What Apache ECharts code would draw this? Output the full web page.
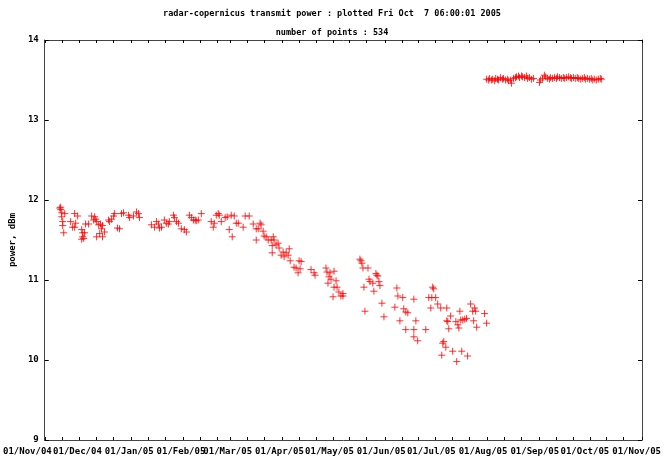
<!DOCTYPE html>
<html>
<head>
<meta charset="utf-8">
<script src="https://cdn.jsdelivr.net/npm/echarts@6/dist/echarts.min.js"></script>
<style>
  html, body { margin: 0; padding: 0; background: #fff; }
  #chart { width: 664px; height: 459px; }
</style>
</head>
<body>
<div id="chart"></div>
<script>
// Day offsets are counted from 01/Nov/2004.
const monthLabels = ['01/Nov/04', '01/Dec/04', '01/Jan/05', '01/Feb/05', '01/Mar/05', '01/Apr/05',
  '01/May/05', '01/Jun/05', '01/Jul/05', '01/Aug/05', '01/Sep/05', '01/Oct/05', '01/Nov/05'];
const monthStartDays = [0, 30, 61, 92, 120, 151, 181, 212, 242, 273, 304, 334, 365];

const yTicks = [9, 10, 11, 12, 13, 14];

// Transmit power samples: day offset and power in dBm.
const pointDays = [
  19.0, 19.0, 19.6, 19.6, 20.2, 20.2, 20.8, 21.4, 18.4, 27.3, 29.1, 24.9, 26.1, 27.3, 27.9,
  31.5, 32.1, 32.1, 32.7, 31.5, 33.2, 33.8, 35.6, 37.4, 39.2, 38.6, 39.8, 40.4, 41.6, 42.7,
  43.9, 43.3, 45.1, 43.9, 40.4, 42.2, 47.5, 48.1, 49.3, 50.5, 51.1, 52.8, 54.0, 55.2, 56.4,
  59.4, 60.0, 62.3, 64.1, 65.3, 65.9,
  73.0, 74.8, 76.0, 77.2, 77.8, 79.0, 80.7, 81.9, 83.1, 83.7, 86.1, 86.7, 87.9, 89.1, 90.8,
  92.6, 93.8, 95.6, 96.8, 98.0, 99.1, 99.7, 100.9, 102.7, 108.6, 109.8, 110.4, 111.6, 112.8,
  113.4, 114.6, 116.9, 118.1, 119.3, 120.5, 121.1, 122.3, 123.5, 124.7, 127.6, 128.8, 131.2,
  133.6, 135.4, 136.6, 135.4, 137.7, 138.3, 139.5, 140.1, 141.3, 142.5, 144.3, 145.5, 146.0,
  144.9, 144.9, 147.2, 148.4, 149.0, 150.2, 151.4, 152.0, 153.2, 154.4, 155.0, 155.6, 157.9,
  159.1, 160.3, 160.9, 162.1, 161.5, 168.0, 169.8, 170.4, 176.9, 177.5, 178.7, 179.3, 181.7,
  178.1, 179.9, 182.9, 181.7, 183.5, 184.6, 185.8, 187.0, 181.1, 187.0,
  197.1, 197.7, 198.3, 198.9, 201.9, 206.6, 207.2, 207.8, 202.5, 203.1, 204.8, 208.4, 209.0,
  199.5, 205.4, 210.2, 200.1, 211.4, 219.1, 219.7, 222.6, 217.9, 223.2, 224.4, 225.6, 229.2,
  220.9, 230.4, 224.4, 229.2, 236.3, 229.2, 231.5,
  240.4, 241.0, 238.1, 239.9, 242.2, 243.4, 245.2, 239.3, 248.8, 251.1, 249.4, 248.8, 250.0,
  254.2, 255.4, 256.0, 257.1, 258.3, 256.6, 259.5, 260.6, 263.0, 264.2, 265.4, 266.0, 264.8,
  266.6, 271.3, 272.5, 246.4, 247.0, 248.2, 245.8, 252.3, 257.7, 254.7, 261.2,
  272.5, 273.7, 274.3, 275.5, 276.1, 277.3, 277.9, 279.0, 279.6, 280.8, 282.0, 282.6, 283.8,
  285.0, 285.6, 286.8, 287.3, 288.5, 289.7, 290.3, 291.5, 292.1, 293.3, 293.9, 295.1, 296.3,
  296.9, 298.0, 299.2, 300.4,
  304.0, 304.6, 305.8, 306.9, 307.5, 308.7, 309.9, 310.5, 311.7, 312.9, 314.1, 314.7, 315.9,
  317.0, 318.2, 318.8, 320.0, 321.2, 322.4, 323.0, 324.2, 325.3, 326.5, 327.1, 328.3, 329.5,
  330.7, 331.3, 332.5, 333.7, 334.8, 335.4, 336.6, 337.8, 339.0, 340.2, 340.8
];
const pointPower = [
  11.91, 11.88, 11.84, 11.79, 11.73, 11.68, 11.59, 11.83, 11.90, 11.83, 11.80, 11.73, 11.66, 11.66, 11.71,
  11.63, 11.59, 11.54, 11.52, 11.51, 11.59, 11.70, 11.70, 11.80, 11.79, 11.75, 11.76, 11.73, 11.69, 11.70,
  11.68, 11.64, 11.60, 11.54, 11.54, 11.58, 11.75, 11.73, 11.76, 11.80, 11.83, 11.65, 11.64, 11.83, 11.84,
  11.81, 11.78, 11.80, 11.85, 11.83, 11.78,
  11.69, 11.66, 11.73, 11.70, 11.65, 11.66, 11.75, 11.71, 11.70, 11.73, 11.81, 11.78, 11.73, 11.71, 11.64,
  11.63, 11.60, 11.81, 11.78, 11.75, 11.75, 11.74, 11.75, 11.83, 11.73, 11.66, 11.71, 11.81, 11.83,
  11.81, 11.73, 11.78, 11.79, 11.63, 11.81, 11.54, 11.80, 11.71, 11.71, 11.66, 11.80, 11.80,
  11.70, 11.64, 11.64, 11.50, 11.71, 11.69, 11.61, 11.55, 11.54, 11.50, 11.50, 11.54, 11.50,
  11.43, 11.34, 11.44, 11.46, 11.40, 11.31, 11.35, 11.29, 11.34, 11.31, 11.39, 11.24, 11.16,
  11.15, 11.09, 11.24, 11.23, 11.14, 11.13, 11.09, 11.06, 11.15, 11.10, 11.04, 11.09, 11.11,
  10.96, 11.01, 10.99, 10.91, 10.91, 10.85, 10.80, 10.80, 10.79, 10.83,
  11.26, 11.24, 11.21, 11.15, 11.15, 11.08, 11.06, 11.05, 11.01, 10.98, 10.96, 10.98, 10.93,
  10.91, 10.86, 10.71, 10.61, 10.54, 10.90, 10.80, 10.78, 10.66, 10.64, 10.60, 10.59, 10.76,
  10.49, 10.49, 10.38, 10.38, 10.38, 10.29, 10.24,
  10.91, 10.89, 10.78, 10.78, 10.78, 10.70, 10.65, 10.65, 10.65, 10.55, 10.48, 10.49, 10.39,
  10.48, 10.44, 10.40, 10.50, 10.50, 10.61, 10.51, 10.52, 10.70, 10.61, 10.65, 10.61, 10.49,
  10.41, 10.58, 10.46, 10.21, 10.23, 10.16, 10.06, 10.11, 10.11, 9.98, 10.05,
  13.51, 13.50, 13.52, 13.50, 13.51, 13.49, 13.52, 13.51, 13.50, 13.53, 13.51, 13.52, 13.50,
  13.51, 13.49, 13.50, 13.46, 13.52, 13.53, 13.54, 13.55, 13.53, 13.55, 13.54, 13.53, 13.55,
  13.52, 13.53, 13.51, 13.52,
  13.47, 13.50, 13.52, 13.56, 13.54, 13.52, 13.51, 13.53, 13.52, 13.53, 13.52, 13.54, 13.53,
  13.52, 13.53, 13.52, 13.53, 13.54, 13.53, 13.52, 13.53, 13.52, 13.53, 13.52, 13.51, 13.52,
  13.53, 13.51, 13.52, 13.51, 13.52, 13.50, 13.51, 13.50, 13.51, 13.52, 13.51
];

// Tick marks on the 1st, 11th and 21st of every month.
const tickDays = [];
for (let i = 0; i < monthStartDays.length; i++) {
  tickDays.push(monthStartDays[i]);
  if (i < monthStartDays.length - 1) {
    tickDays.push(monthStartDays[i] + 10, monthStartDays[i] + 20);
  }
}

const firstShownDay = 9.5;
const lastDay = 365;

const font = 'DejaVu Sans Mono';
const frameColor = '#444';

const chart = echarts.init(document.getElementById('chart'), null, { renderer: 'canvas' });

const frameAxis = (position) => ({
  gridIndex: 0,
  type: 'value',
  position: position,
  min: firstShownDay,
  max: lastDay,
  axisLine: { show: true, onZero: false, lineStyle: { color: frameColor, width: 1 } },
  axisTick: { show: true, inside: true, length: 3, customValues: tickDays, lineStyle: { color: '#000' } },
  axisLabel: { show: false },
  splitLine: { show: false }
});

const option = {
  animation: false,
  backgroundColor: '#fff',
  title: [
    {
      text: 'radar-copernicus transmit power : plotted Fri Oct  7 06:00:01 2005',
      left: 'center', top: 4,
      textStyle: { fontFamily: font, fontSize: 8.5, fontWeight: 'bold', color: '#000' }
    },
    {
      text: 'number of points : 534',
      left: 'center', top: 23,
      textStyle: { fontFamily: font, fontSize: 8.5, fontWeight: 'bold', color: '#000' }
    }
  ],
  grid: [
    { left: 43, right: 22, top: 40, bottom: 19, containLabel: false },
    { left: 27, right: 22, top: 40, bottom: 19, containLabel: false }
  ],
  xAxis: [
    frameAxis('bottom'),
    frameAxis('top'),
    {
      gridIndex: 1,
      type: 'value',
      position: 'bottom',
      min: 0,
      max: lastDay,
      axisLine: { show: false },
      axisTick: { show: false },
      splitLine: { show: false },
      axisLabel: {
        show: true,
        customValues: monthStartDays,
        margin: 7,
        fontFamily: font, fontSize: 9, fontWeight: 'bold', color: '#000',
        formatter: (v) => monthLabels[monthStartDays.indexOf(v)]
      }
    }
  ],
  yAxis: [
    {
      gridIndex: 0,
      type: 'value',
      min: yTicks[0],
      max: yTicks[yTicks.length - 1],
      interval: 1,
      position: 'left',
      name: 'power, dBm',
      nameLocation: 'middle',
      nameGap: 26,
      nameRotate: 90,
      nameTextStyle: { fontFamily: font, fontSize: 9, fontWeight: 'bold', color: '#000' },
      axisLine: { show: true, onZero: false, lineStyle: { color: frameColor, width: 1 } },
      axisTick: { show: true, inside: true, length: 4, lineStyle: { color: '#000' } },
      axisLabel: { show: true, margin: 6, fontFamily: font, fontSize: 9, fontWeight: 'bold', color: '#000' },
      splitLine: { show: false }
    },
    {
      gridIndex: 0,
      type: 'value',
      min: yTicks[0],
      max: yTicks[yTicks.length - 1],
      interval: 1,
      position: 'right',
      axisLine: { show: true, onZero: false, lineStyle: { color: frameColor, width: 1 } },
      axisTick: { show: true, inside: true, length: 4, lineStyle: { color: '#000' } },
      axisLabel: { show: false },
      splitLine: { show: false }
    },
    { gridIndex: 1, type: 'value', show: false, min: 0, max: 1 }
  ],
  series: [
    {
      type: 'scatter',
      xAxisIndex: 0,
      yAxisIndex: 0,
      symbol: 'path://M0,3.5L7,3.5M3.5,0L3.5,7',
      symbolSize: 7,
      itemStyle: { color: 'rgba(0,0,0,0)', borderColor: '#ff0000', borderWidth: 1 },
      emphasis: { disabled: true },
      data: pointDays.map((d, i) => [d, pointPower[i]])
    }
  ]
};

chart.setOption(option);
</script>
</body>
</html>
